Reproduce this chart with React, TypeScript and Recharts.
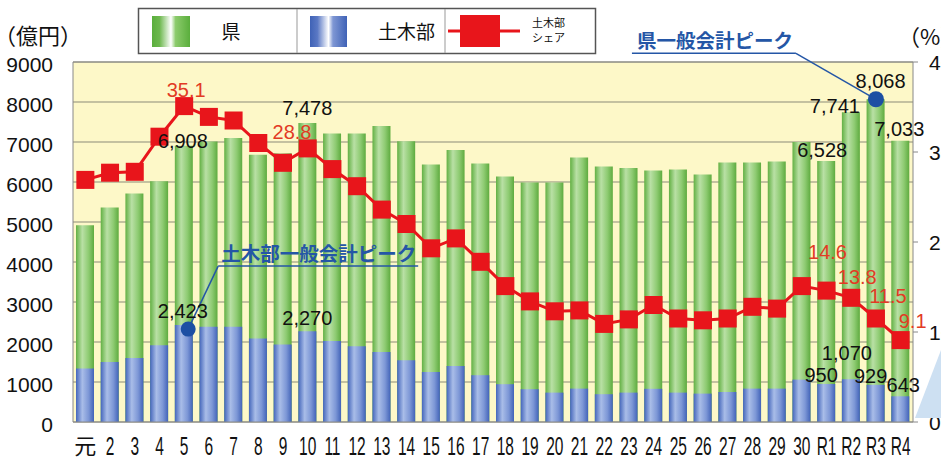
import React from "react";
import {
  ComposedChart,
  Bar,
  Line,
  XAxis,
  YAxis,
  CartesianGrid,
  LabelList,
  ReferenceLine,
  ReferenceDot,
} from "recharts";

// Fiscal years (Heisei 元..30, Reiwa R1..R4)
const years = [
  "元", "2", "3", "4", "5", "6", "7", "8", "9", "10",
  "11", "12", "13", "14", "15", "16", "17", "18", "19", "20",
  "21", "22", "23", "24", "25", "26", "27", "28", "29", "30",
  "R1", "R2", "R3", "R4",
];

// 県 general account (億円)
const prefTotal = [
  4920, 5360, 5710, 6020, 6908, 7015, 7100, 6680, 6720, 7478,
  7210, 7210, 7400, 7020, 6440, 6800, 6460, 6140, 5985, 5985,
  6610, 6390, 6350, 6290, 6310, 6190, 6490, 6485, 6515, 7000,
  6528, 7741, 8068, 7033,
];

// 土木部 general account (億円)
const civilBudget = [
  1335, 1500, 1600, 1920, 2423, 2380, 2380, 2085, 1935, 2270,
  2025, 1895, 1750, 1545, 1250, 1400, 1170, 945, 820, 735,
  835, 695, 735, 830, 735, 710, 750, 835, 835, 1060,
  950, 1070, 929, 643,
];

// 土木部シェア (%)
const civilShare = [
  26.9, 27.7, 27.8, 31.7, 35.1, 33.9, 33.5, 31.0, 28.8, 30.4,
  28.1, 26.2, 23.6, 22.0, 19.3, 20.4, 17.8, 15.1, 13.4, 12.3,
  12.4, 10.9, 11.4, 13.0, 11.5, 11.3, 11.5, 12.8, 12.6, 15.1,
  14.6, 13.8, 11.5, 9.1,
];

const leftTicks = [0, 1000, 2000, 3000, 4000, 5000, 6000, 7000, 8000, 9000];
const rightTicks = [0, 10, 20, 30, 40];

const chartData = years.map((year, i) => ({
  year,
  pref: prefTotal[i],
  civil: civilBudget[i],
  share: civilShare[i],
}));

// which years get a value label, and a small nudge [dx, dy]
const prefLabelPos: Record<string, [number, number]> = {
  "5": [-1, 2], "10": [0, -8], R1: [-4, -4], R2: [-16, 1], R3: [5, -11], R4: [-1, -5],
};
const civilLabelPos: Record<string, [number, number]> = {
  "5": [-1, -7], "10": [0, -6], R1: [-5, -2], R2: [-4, -19], R3: [-5, -2], R4: [3, -4],
};
const shareLabelPos: Record<string, [number, number]> = {
  "5": [2, -9], "9": [9, -24], R1: [1, -32], R2: [6, -14], R3: [12, -16], R4: [12, -12],
};

const NUM_FONT = "'Liberation Sans', Arial, sans-serif";
const JP_FONT = "'Noto Sans CJK JP', sans-serif";
const RED = "#e8151b";
const PEAK_BLUE = "#2456a6";

const barLabel = (pos: Record<string, [number, number]>) => (props: any) => {
  const { x, y, width, index, value } = props;
  const p = pos[years[index]];
  if (!p) return null;
  return (
    <text
      x={Number(x) + Number(width) / 2 + p[0]}
      y={Number(y) + p[1]}
      textAnchor="middle"
      fontSize={20}
      fontFamily={NUM_FONT}
      fill="#111"
    >
      {Number(value).toLocaleString("en-US")}
    </text>
  );
};

const shareLabel = (props: any) => {
  const { x, y, index, value } = props;
  const p = shareLabelPos[years[index]];
  if (!p) return null;
  return (
    <text
      x={Number(x) + p[0]}
      y={Number(y) + p[1]}
      textAnchor="middle"
      fontSize={20}
      fontFamily={NUM_FONT}
      fill="#e23b24"
    >
      {Number(value).toFixed(1)}
    </text>
  );
};

const SquareDot = (props: any) => {
  const { cx, cy, index } = props;
  return <rect key={`sq-${index}`} x={cx - 9} y={cy - 9} width={18} height={18} fill={RED} />;
};

const YearTick = (props: any) => {
  const { x, y, payload } = props;
  const label = String(payload.value);
  if (label === "元") {
    return (
      <text x={x} y={y + 24} textAnchor="middle" fontSize={22} fontFamily={JP_FONT} fill="#111">
        元
      </text>
    );
  }
  return (
    <g transform={`translate(${x},${y + 25}) scale(0.62,1)`}>
      <text x={0} y={0} textAnchor="middle" fontSize={25} fontFamily={NUM_FONT} fill="#111">
        {label}
      </text>
    </g>
  );
};

const LeftTick = (props: any) => {
  const { x, y, payload } = props;
  return (
    <text x={x} y={y + 10} textAnchor="end" fontSize={21} fontFamily={NUM_FONT} fill="#111">
      {payload.value}
    </text>
  );
};

const RightTick = (props: any) => {
  const { x, y, payload } = props;
  return (
    <text x={x} y={y + 8} textAnchor="start" fontSize={21} fontFamily={NUM_FONT} fill="#111">
      {payload.value}
    </text>
  );
};

// peak markers with leader line and caption
const PrefPeak = (props: any) => {
  const { cx, cy } = props;
  const ex = cx - 80;
  const ey = cy - 46;
  return (
    <g>
      <line x1={cx} y1={cy} x2={ex} y2={ey} stroke={PEAK_BLUE} strokeWidth={1.5} />
      <line x1={ex} y1={ey} x2={ex - 164} y2={ey} stroke={PEAK_BLUE} strokeWidth={1.5} />
      <text x={ex - 3} y={ey - 5} textAnchor="end" fontSize={19.5} fontWeight={700} fontFamily={JP_FONT} fill={PEAK_BLUE}>
        県一般会計ピーク
      </text>
      <circle cx={cx} cy={cy} r={8} fill="#1d4fa3" />
    </g>
  );
};

const CivilPeak = (props: any) => {
  const { cx, cy } = props;
  const dx = cx + 4;
  const dy = cy + 4;
  const ex = dx + 30;
  const ey = dy - 63;
  return (
    <g>
      <line x1={dx} y1={dy} x2={ex} y2={ey} stroke={PEAK_BLUE} strokeWidth={1.5} />
      <line x1={ex} y1={ey} x2={ex + 200} y2={ey} stroke={PEAK_BLUE} strokeWidth={1.5} />
      <text x={ex + 3} y={ey - 5} fontSize={19.5} fontWeight={700} fontFamily={JP_FONT} fill={PEAK_BLUE}>
        土木部一般会計ピーク
      </text>
      <circle cx={dx} cy={dy} r={7.5} fill="#1d4fa3" />
    </g>
  );
};

function LegendBox() {
  return (
    <svg width={941} height={462} style={{ position: "absolute", left: 0, top: 0, pointerEvents: "none" }}>
      <defs>
        <linearGradient id="legGreen" x1="0" y1="0" x2="1" y2="0">
          <stop offset="0" stopColor="#5aae3c" />
          <stop offset="0.2" stopColor="#6db84e" />
          <stop offset="0.5" stopColor="#ffffff" />
          <stop offset="0.62" stopColor="#8ccb6c" />
          <stop offset="1" stopColor="#5aae3c" />
        </linearGradient>
        <linearGradient id="legBlue" x1="0" y1="0" x2="1" y2="0">
          <stop offset="0" stopColor="#3f62b6" />
          <stop offset="0.2" stopColor="#5a78c4" />
          <stop offset="0.5" stopColor="#ffffff" />
          <stop offset="0.62" stopColor="#7f97d4" />
          <stop offset="1" stopColor="#3f62b6" />
        </linearGradient>
      </defs>
      <text x={-6} y={44} fontSize={22} fontFamily={JP_FONT} fill="#111">（億円）</text>
      <text x={898} y={45} fontSize={22} fontFamily={JP_FONT} fill="#111">（%）</text>
      <rect x={138.5} y={8.5} width={457} height={45} fill="#fff" stroke="#555" strokeWidth={1.5} />
      <line x1={297} y1={9} x2={297} y2={53} stroke="#999" />
      <line x1={445} y1={9} x2={445} y2={53} stroke="#999" />
      <rect x={152} y={16} width={38} height={31} fill="url(#legGreen)" />
      <text x={231} y={39} textAnchor="middle" fontSize={19} fontFamily={JP_FONT} fill="#111">県</text>
      <rect x={310} y={16} width={37} height={31} fill="url(#legBlue)" />
      <text x={435} y={39} textAnchor="end" fontSize={19} fontFamily={JP_FONT} fill="#111">土木部</text>
      <line x1={448} y1={31} x2={520} y2={31} stroke={RED} strokeWidth={3} />
      <rect x={460} y={15} width={40} height={32} fill={RED} />
      <text x={532} y={27} fontSize={11} fontFamily={JP_FONT} fill="#111">土木部</text>
      <text x={532} y={42} fontSize={11} fontFamily={JP_FONT} fill="#111">シェア</text>
      <polygon points="915,418 941,350 941,418" fill="#cde0f2" />
    </svg>
  );
}

export default function App() {
  const prefPeakIdx = prefTotal.indexOf(Math.max(...prefTotal));
  const civilPeakIdx = civilBudget.indexOf(Math.max(...civilBudget));

  return (
    <div
      style={{
        position: "fixed",
        left: 0,
        top: 0,
        width: 941,
        height: 462,
        overflow: "hidden",
        background: "#fff",
      }}
    >
      <ComposedChart width={980} height={462} data={chartData} margin={{ top: 62, right: 0, bottom: 0, left: 0 }}>
        <defs>
          <linearGradient id="barGreen" x1="0" y1="0" x2="1" y2="0">
            <stop offset="0" stopColor="#62b043" />
            <stop offset="0.35" stopColor="#b9e0a5" />
            <stop offset="0.7" stopColor="#8ecb72" />
            <stop offset="1" stopColor="#5eab3f" />
          </linearGradient>
          <linearGradient id="barBlue" x1="0" y1="0" x2="1" y2="0">
            <stop offset="0" stopColor="#4466bb" />
            <stop offset="0.35" stopColor="#a9bde8" />
            <stop offset="0.7" stopColor="#7d97d6" />
            <stop offset="1" stopColor="#4263b8" />
          </linearGradient>
        </defs>
        <CartesianGrid yAxisId="left" xAxisId="main" vertical={false} stroke="#8b8b78" fill="#fdf8c8" />
        <XAxis
          xAxisId="main"
          dataKey="year"
          height={40}
          interval={0}
          tickLine={false}
          axisLine={{ stroke: "#888" }}
          tick={<YearTick />}
        />
        <XAxis xAxisId="over" dataKey="year" hide />
        <YAxis
          yAxisId="left"
          orientation="left"
          width={73}
          domain={[0, 9000]}
          ticks={leftTicks}
          interval={0}
          tickLine={false}
          tickSize={6}
          tickMargin={14}
          axisLine={{ stroke: "#888" }}
          tick={<LeftTick />}
        />
        <YAxis
          yAxisId="right"
          orientation="right"
          width={67}
          domain={[0, 40]}
          ticks={rightTicks}
          interval={0}
          tickSize={5}
          tickMargin={11}
          tickLine={{ stroke: "#888" }}
          axisLine={{ stroke: "#888" }}
          tick={<RightTick />}
        />
        <ReferenceLine yAxisId="left" xAxisId="main" y={9000} stroke="#888" />
        <Bar xAxisId="main" yAxisId="left" dataKey="pref" fill="url(#barGreen)" barSize={18} isAnimationActive={false}>
          <LabelList dataKey="pref" content={barLabel(prefLabelPos)} />
        </Bar>
        <Bar xAxisId="over" yAxisId="left" dataKey="civil" fill="url(#barBlue)" barSize={18} isAnimationActive={false}>
          <LabelList dataKey="civil" content={barLabel(civilLabelPos)} />
        </Bar>
        <Line
          xAxisId="main"
          yAxisId="right"
          dataKey="share"
          stroke={RED}
          strokeWidth={3}
          dot={<SquareDot />}
          activeDot={false}
          isAnimationActive={false}
        >
          <LabelList dataKey="share" content={shareLabel} />
        </Line>
        <ReferenceDot
          xAxisId="main"
          yAxisId="left"
          x={years[prefPeakIdx]}
          y={prefTotal[prefPeakIdx]}
          r={8}
          shape={PrefPeak}
        />
        <ReferenceDot
          xAxisId="main"
          yAxisId="left"
          x={years[civilPeakIdx]}
          y={civilBudget[civilPeakIdx]}
          r={8}
          shape={CivilPeak}
        />
      </ComposedChart>
      <LegendBox />
    </div>
  );
}
